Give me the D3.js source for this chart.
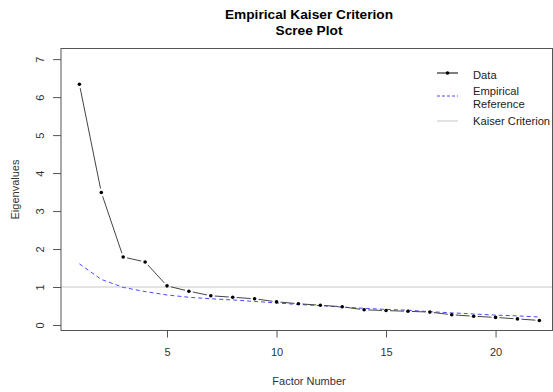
<!DOCTYPE html>
<html>
<head>
<meta charset="utf-8">
<script src="https://cdn.jsdelivr.net/npm/d3@7"></script>
<style>
  body { margin: 0; background: #fff; }
  svg { display: block; font-family: "Liberation Sans", Arial, sans-serif; }
</style>
</head>
<body>
<svg id="drawing_region"></svg>
<script>
// eigenvalues
const factors = d3.range(1, 23);
const eigenvalues = [6.34, 3.49, 1.79, 1.66, 1.03, 0.89, 0.77, 0.73, 0.69, 0.61, 0.56,
                     0.52, 0.48, 0.40, 0.38, 0.36, 0.34, 0.27, 0.23, 0.20, 0.16, 0.12];
const empirical = [1.61, 1.20, 0.99, 0.88, 0.79, 0.73, 0.69, 0.66, 0.62, 0.58, 0.54,
                   0.51, 0.47, 0.44, 0.41, 0.39, 0.35, 0.32, 0.29, 0.26, 0.24, 0.21];
const kaiser = 1;
const xTicks = [5, 10, 15, 20];
const yTicks = [0, 1, 2, 3, 4, 5, 6, 7];
const legendLabels = [["Data"], ["Empirical", "Reference"], ["Kaiser Criterion"]];

const width = 553, height = 392;
const margin = {top: 48.5, right: 0.5, bottom: 61.5, left: 61};

const svg = d3.select('#drawing_region')
    .attr('width', width)
    .attr('height', height);

const x = d3.scaleLinear()
    .domain([0.16, 22.6])
    .range([margin.left, width - margin.right]);

const y = d3.scaleLinear()
    .domain([-0.145, 7.28])
    .range([height - margin.bottom, margin.top]);

// kaiser line
svg.append('line')
    .attr('x1', x.range()[0]).attr('x2', x.range()[1])
    .attr('y1', y(kaiser)).attr('y2', y(kaiser))
    .attr('stroke', '#c8c8c8')
    .attr('stroke-width', 1.2);

// empirical reference
svg.append('path')
    .datum(factors.map((f, i) => [f, empirical[i]]))
    .attr('fill', 'none')
    .attr('stroke', '#4a4aff')
    .attr('stroke-width', 1)
    .attr('stroke-dasharray', '4,3')
    .attr('d', d3.line().x(d => x(d[0])).y(d => y(d[1])));

// data: R type "b" -- segments leave a gap near each point
const gap = 4;
const segs = [];
for (let i = 0; i < factors.length - 1; i++) {
    const x1 = x(factors[i]), y1 = y(eigenvalues[i]);
    const x2 = x(factors[i + 1]), y2 = y(eigenvalues[i + 1]);
    const len = Math.hypot(x2 - x1, y2 - y1);
    if (len <= 2 * gap) continue;
    const ux = (x2 - x1) / len, uy = (y2 - y1) / len;
    segs.push([x1 + ux * gap, y1 + uy * gap, x2 - ux * gap, y2 - uy * gap]);
}
svg.append('g').selectAll('line')
    .data(segs)
    .join('line')
    .attr('x1', d => d[0]).attr('y1', d => d[1])
    .attr('x2', d => d[2]).attr('y2', d => d[3])
    .attr('stroke', '#444')
    .attr('stroke-width', 1);

svg.append('g').selectAll('circle')
    .data(factors)
    .join('circle')
    .attr('cx', d => x(d))
    .attr('cy', (d, i) => y(eigenvalues[i]))
    .attr('r', 1.8)
    .attr('fill', '#000');

// box
svg.append('rect')
    .attr('x', x.range()[0]).attr('y', y.range()[1])
    .attr('width', x.range()[1] - x.range()[0])
    .attr('height', y.range()[0] - y.range()[1])
    .attr('fill', 'none')
    .attr('stroke', '#555')
    .attr('stroke-width', 1);

// axes
const xAxis = svg.append('g')
    .attr('transform', `translate(0, ${y.range()[0]})`)
    .call(d3.axisBottom(x).tickValues(xTicks).tickSize(7).tickPadding(11));
const yAxis = svg.append('g')
    .attr('transform', `translate(${x.range()[0]}, 0)`)
    .call(d3.axisLeft(y).tickValues(yTicks).tickSize(8).tickPadding(0));

[xAxis, yAxis].forEach(a => {
    a.select('.domain').remove();
    a.selectAll('line').attr('stroke', '#555');
    a.selectAll('text').attr('fill', '#333').style('font-size', '11px')
        .style('font-family', '"Liberation Sans", Arial, sans-serif');
});
yAxis.selectAll('.tick text')
    .attr('x', null).attr('y', 0).attr('dy', null)
    .attr('text-anchor', 'middle')
    .attr('transform', 'translate(-17.5, 0) rotate(-90)');

// titles
svg.append('text')
    .attr('x', 309).attr('y', 19)
    .attr('text-anchor', 'middle')
    .style('font-size', '13.7px').style('font-weight', 'bold')
    .text('Empirical Kaiser Criterion');
svg.append('text')
    .attr('x', 309).attr('y', 34.5)
    .attr('text-anchor', 'middle')
    .style('font-size', '13.7px').style('font-weight', 'bold')
    .text('Scree Plot');
svg.append('text')
    .attr('x', 309).attr('y', 385)
    .attr('text-anchor', 'middle')
    .attr('fill', '#333')
    .style('font-size', '11px')
    .text('Factor Number');
svg.append('text')
    .attr('transform', `translate(18.5, ${(y.range()[0] + y.range()[1]) / 2}) rotate(-90)`)
    .attr('text-anchor', 'middle')
    .attr('fill', '#333')
    .style('font-size', '11px')
    .text('Eigenvalues');

// legend
const lg = svg.append('g');
const rows = [
    {y: 73, base: [78.5], stroke: '#000', dash: null, point: true},
    {y: 96, base: [95, 107.5], stroke: '#4a4aff', dash: '3,2', point: false},
    {y: 121, base: [125], stroke: '#d8d8d8', dash: null, point: false, w: 1.5}
];
rows.forEach((r, i) => {
    lg.append('line')
        .attr('x1', 437).attr('x2', 458)
        .attr('y1', r.y).attr('y2', r.y)
        .attr('stroke', r.stroke)
        .attr('stroke-width', r.w || 1)
        .attr('stroke-dasharray', r.dash);
    if (r.point) {
        lg.append('circle').attr('cx', 447.5).attr('cy', r.y).attr('r', 1.8).attr('fill', '#000');
    }
    legendLabels[i].forEach((t, j) => {
        lg.append('text')
            .attr('x', 473)
            .attr('y', r.base[j])
            .attr('fill', '#222')
            .style('font-size', '11.2px')
            .text(t);
    });
});
</script>
</body>
</html>
